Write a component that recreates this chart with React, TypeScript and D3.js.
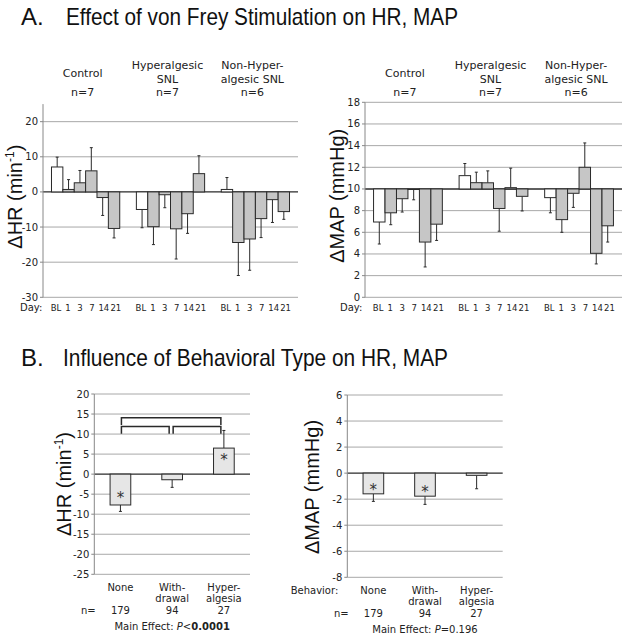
import React from "react";
import * as d3 from "d3";

// top row: stimulation day within each group
const days = ["BL", "1", "3", "7", "14", "21"];
const groupLines = [["Control"], ["Hyperalgesic", "SNL"], ["Non-Hyper-", "algesic SNL"]];
const groupN = ["n=7", "n=7", "n=6"];

const hrMean = [
  [7.1, 0.7, 2.6, 6.0, -1.6, -10.4],
  [-5.0, -9.9, -0.8, -10.5, -6.2, 5.2],
  [0.7, -14.4, -13.4, -7.6, -2.2, -5.6],
];
const hrSem = [
  [2.8, 2.8, 3.5, 6.6, 5.1, 2.7],
  [5.2, 5.1, 3.7, 8.6, 5.6, 5.1],
  [3.4, 9.4, 8.9, 5.4, 6.5, 2.2],
];
const mapMean = [
  [6.95, 7.8, 9.1, 9.95, 5.1, 6.75],
  [11.23, 10.58, 10.57, 8.2, 10.12, 9.32],
  [9.2, 7.17, 9.6, 12.0, 4.06, 6.6],
];
const mapSem = [
  [2.03, 1.1, 1.23, 0.95, 2.3, 1.5],
  [1.12, 0.97, 1.1, 2.1, 1.8, 1.35],
  [1.4, 1.17, 1.3, 2.25, 0.98, 1.5],
];

// bottom row: behavioural type
const behaviorLines = [["None"], ["With-", "drawal"], ["Hyper-", "algesia"]];
const behaviorN = ["179", "94", "27"];
const hrBeh = [-7.7, -1.4, 6.5];
const hrBehSem = [1.6, 1.9, 4.4];
const hrBehSig = [true, false, true];
const mapBeh = [-1.59, -1.77, -0.17];
const mapBehSem = [0.58, 0.63, 1.03];
const mapBehSig = [true, true, false];
// significance brackets between behaviours (level 1 = lower)
const hrBrackets = [
  { from: 0, to: 2, level: 2 },
  { from: 0, to: 1, level: 1 },
  { from: 1, to: 2, level: 1 },
];

const SANS = "DejaVu Sans, Verdana, sans-serif";
const ARIAL = "Liberation Sans, Arial, sans-serif";
const GRID = "#a8a8a8";
const INK = "#2a2a2a";

function ErrBar({ x, y0, y1 }: { x: number; y0: number; y1: number }) {
  return (
    <g stroke={INK} strokeWidth={1}>
      <line x1={x} x2={x} y1={y0} y2={y1} />
      <line x1={x - 1.5} x2={x + 1.5} y1={y1} y2={y1} />
    </g>
  );
}

function YAxis({ y, x, right, ticks, base }: any) {
  const [lo, hi] = y.domain();
  return (
    <g>
      {ticks.map((t: number) => (
        <g key={t}>
          <line x1={x} x2={right} y1={y(t)} y2={y(t)} stroke={t === base ? INK : GRID}
            strokeWidth={t === base ? 1.4 : 1} />
          <line x1={x - 3} x2={x} y1={y(t)} y2={y(t)} stroke="#888" />
          <text x={x - 5} y={y(t) + 3.5} textAnchor="end" fontSize={10} fontFamily={SANS} fill="#222">
            {t}
          </text>
        </g>
      ))}
      <line x1={x} x2={x} y1={y(lo)} y2={y(hi)} stroke="#888" />
    </g>
  );
}

function DayPanel({ left, right, y, base, ticks, means, sems, title, titleX, dayX }: any) {
  const gx = d3.scaleBand<number>().domain(d3.range(3)).range([left, right])
    .paddingInner(0.196).paddingOuter(0.1);
  const bx = d3.scaleBand<number>().domain(d3.range(days.length)).range([0, gx.bandwidth()]);
  const bottom = y.range()[0];
  return (
    <g>
      <YAxis y={y} x={left} right={right} ticks={ticks} base={base} />
      {means.map((row: number[], g: number) => (
        <g key={g} transform={`translate(${gx(g)},0)`}>
          {row.map((v, i) => {
            const x = bx(i)!;
            const w = bx.bandwidth();
            const e = v >= base ? v + sems[g][i] : v - sems[g][i];
            return (
              <g key={i}>
                <ErrBar x={x + w / 2} y0={y(v)} y1={y(e)} />
                <rect x={x} width={w} y={Math.min(y(v), y(base))} height={Math.abs(y(v) - y(base))}
                  fill={i === 0 ? "#fff" : "#c6c6c6"} stroke={INK} strokeWidth={1} />
                <text x={x + w / 2 + (i - 2) * 0.6} y={bottom + 14} textAnchor="middle" fontSize={8.5}
                  fontFamily={SANS} fill="#222">
                  {days[i]}
                </text>
              </g>
            );
          })}
          {groupLines[g].map((s, k) => (
            <text key={s} x={gx.bandwidth() / 2 - 3}
              y={groupLines[g].length === 1 ? 77 : 69 + k * 13.5}
              textAnchor="middle" fontSize={11} fontFamily={SANS} fill="#222">{s}</text>
          ))}
          <text x={gx.bandwidth() / 2 - 3} y={95.5} textAnchor="middle" fontSize={11} fontFamily={SANS} fill="#222">
            {groupN[g]}
          </text>
        </g>
      ))}
      <text x={dayX} y={bottom + 14} fontSize={10} fontFamily={SANS} fill="#222">Day:</text>
      <g transform={`translate(${titleX},${(y.range()[0] + y.range()[1]) / 2 - 4}) rotate(-90)`}>
        {title}
      </g>
    </g>
  );
}

function BehPanel({ left, right, y, ticks, means, sems, sig, brackets, title, titleX, titleY, pText, rowLabel }: any) {
  const bx = d3.scaleBand<number>().domain(d3.range(3)).range([left, right])
    .paddingInner(0.6).paddingOuter(0.305);
  const w = bx.bandwidth();
  const cx = (i: number) => bx(i)! + w / 2;
  const bottom = y.range()[0];
  return (
    <g>
      <YAxis y={y} x={left} right={right} ticks={ticks} base={0} />
      {means.map((v: number, i: number) => {
        const e = v >= 0 ? v + sems[i] : v - sems[i];
        return (
          <g key={i}>
            <ErrBar x={cx(i)} y0={y(v)} y1={y(e)} />
            <rect x={bx(i)} width={w} y={Math.min(y(v), y(0))} height={Math.abs(y(v) - y(0))}
              fill="#e6e6e6" stroke={INK} strokeWidth={1} />
            {sig[i] && (
              <text x={cx(i)} y={y(v * 0.66) + 8.5} textAnchor="middle" fontSize={15} fontFamily={SANS} fill="#333">*</text>
            )}
            {behaviorLines[i].map((s, k) => (
              <text key={s} x={cx(i)} y={bottom + 17 + k * 11} textAnchor="middle" fontSize={10}
                fontFamily={SANS} fill="#222">{s}</text>
            ))}
            <text x={cx(i)} y={bottom + 40} textAnchor="middle" fontSize={10} fontFamily={SANS} fill="#222">
              {behaviorN[i]}
            </text>
          </g>
        );
      })}
      {(brackets || []).map((b: any, k: number) => {
        const top = 11.9 + (b.level - 1) * 2.2;
        const x1 = cx(b.from) + 1;
        const x2 = cx(b.to) - 3;
        return (
          <path key={k} d={`M${x1},${y(top - 1.85)}V${y(top)}H${x2}V${y(top - 1.85)}`}
            fill="none" stroke={INK} strokeWidth={1.5} />
        );
      })}
      {rowLabel && (
        <text x={left - 9} y={bottom + 17} textAnchor="end" fontSize={10} fontFamily={SANS} fill="#222">{rowLabel}</text>
      )}
      <text x={left - 6} y={bottom + 40} textAnchor="middle" fontSize={10} fontFamily={SANS} fill="#222">n=</text>
      <text x={(left + right) / 2} y={bottom + 56} textAnchor="middle" fontSize={10} fontFamily={SANS} fill="#222">
        {pText}
      </text>
      <g transform={`translate(${titleX},${titleY}) rotate(-90)`}>{title}</g>
    </g>
  );
}

const hrTitle = (
  <text textAnchor="middle" fontSize={20} fontFamily={ARIAL} fill="#111">
    ΔHR (min<tspan dy={-8} fontSize={12}>-1</tspan><tspan dy={8}>)</tspan>
  </text>
);
const mapTitle = (
  <text textAnchor="middle" fontSize={20} fontFamily={ARIAL} fill="#111">ΔMAP (mmHg)</text>
);

export default function App() {
  const yHR = d3.scaleLinear().domain([-30, 25]).range([297.3, 104.1]);
  const yMAP = d3.scaleLinear().domain([0, 18]).range([297.3, 102.3]);
  const yHRb = d3.scaleLinear().domain([-25, 20]).range([574.3, 394]);
  const yMAPb = d3.scaleLinear().domain([-8, 6]).range([577.3, 395]);

  return (
    <svg width={625} height={636} style={{ position: "absolute", left: 0, top: 0, background: "#fff" }}>
      <text x={21} y={24.5} fontSize={24} fontFamily={ARIAL} fill="#111">A.</text>
      <text x={66} y={24.5} fontSize={24} fontFamily={ARIAL} fill="#111" textLength={392}
        lengthAdjust="spacingAndGlyphs">Effect of von Frey Stimulation on HR, MAP</text>
      <text x={21} y={366} fontSize={24} fontFamily={ARIAL} fill="#111">B.</text>
      <text x={63} y={366} fontSize={24} fontFamily={ARIAL} fill="#111" textLength={385}
        lengthAdjust="spacingAndGlyphs">Influence of Behavioral Type on HR, MAP</text>

      <DayPanel left={43} right={298} y={yHR} base={0} ticks={yHR.ticks(6).filter((t) => t <= 20)}
        means={hrMean} sems={hrSem} title={hrTitle} titleX={22} dayX={20} />
      <DayPanel left={365} right={622} y={yMAP} base={10} ticks={yMAP.ticks(9)}
        means={mapMean} sems={mapSem} title={mapTitle} titleX={344} dayX={340} />

      <BehPanel left={94.3} right={250} y={yHRb} ticks={yHRb.ticks(9)} means={hrBeh} sems={hrBehSem}
        sig={hrBehSig} brackets={hrBrackets} title={hrTitle} titleX={71} titleY={484}
        pText={<>Main Effect: <tspan fontStyle="italic">P</tspan>&lt;<tspan fontWeight="bold">0.0001</tspan></>} />
      <BehPanel left={347.3} right={502.7} y={yMAPb} ticks={yMAPb.ticks(7)} means={mapBeh} sems={mapBehSem}
        sig={mapBehSig} title={mapTitle} titleX={319} titleY={487} rowLabel="Behavior:"
        pText={<>Main Effect: <tspan fontStyle="italic">P</tspan>=0.196</>} />
    </svg>
  );
}
